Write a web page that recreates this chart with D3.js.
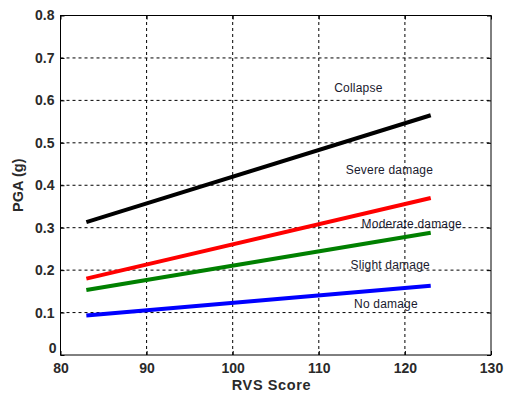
<!DOCTYPE html>
<html>
<head>
<meta charset="utf-8">
<script src="https://cdn.jsdelivr.net/npm/d3@7"></script>
<style>
  body { margin: 0; background: #fff; }
  text { font-family: Arial, "Liberation Sans", sans-serif; }
</style>
</head>
<body>
<div id="chart"></div>
<script>
// data
var rvs = [83, 123];
var collapse = [0.313, 0.565];
var moderate = [0.180, 0.370];
var slight = [0.153, 0.288];
var noDamage = [0.093, 0.163];
var seriesColors = ["#000000", "#ff0000", "#008000", "#0000ff"];

var stateNames = ["Collapse", "Severe damage", "Moderate damage", "Slight damage", "No damage"];
var stateX = [114.6, 118.2, 120.8, 118.3, 117.8];
var stateY = [0.627, 0.435, 0.307, 0.211, 0.119];

var xTicks = [80, 90, 100, 110, 120, 130];
var yTicks = [0, 0.1, 0.2, 0.3, 0.4, 0.5, 0.6, 0.7, 0.8];

var W = 507, H = 395;
var margin = {left: 60.5, right: 16, top: 15.5, bottom: 40};

var svg = d3.select("#chart").append("svg")
    .attr("width", W)
    .attr("height", H);

var x = d3.scaleLinear().domain([80, 130]).range([margin.left, W - margin.right]);
var y = d3.scaleLinear().domain([0, 0.8]).range([H - margin.bottom, margin.top]);

// grid
svg.append("g").selectAll("line").data(xTicks.slice(1, -1)).join("line")
    .attr("x1", d => x(d)).attr("x2", d => x(d))
    .attr("y1", y(0)).attr("y2", y(0.8))
    .attr("stroke", "#000").attr("stroke-width", 1)
    .attr("stroke-dasharray", "3,3");
svg.append("g").selectAll("line").data(yTicks.slice(1, -1)).join("line")
    .attr("x1", x(80)).attr("x2", x(130))
    .attr("y1", d => y(d)).attr("y2", d => y(d))
    .attr("stroke", "#000").attr("stroke-width", 1)
    .attr("stroke-dasharray", "3,3");

// box
svg.append("rect")
    .attr("x", x(80)).attr("y", y(0.8))
    .attr("width", x(130) - x(80)).attr("height", y(0) - y(0.8))
    .attr("fill", "none").attr("stroke", "#000").attr("stroke-width", 1);

// axes, ticks pointing inward like matlab
var xAxis = svg.append("g")
    .attr("transform", "translate(0," + y(0) + ")")
    .call(d3.axisBottom(x).tickValues(xTicks).tickSize(-4).tickPadding(8).tickFormat(d3.format("d")));
var xTop = svg.append("g")
    .attr("transform", "translate(0," + y(0.8) + ")")
    .call(d3.axisTop(x).tickValues(xTicks).tickSize(-4).tickFormat(""));
var yAxis = svg.append("g")
    .attr("transform", "translate(" + x(80) + ",0)")
    .call(d3.axisLeft(y).tickValues(yTicks).tickSize(-4).tickPadding(6).tickFormat(d => d === 0 ? "0" : d3.format(".1f")(d)));
var yRight = svg.append("g")
    .attr("transform", "translate(" + x(130) + ",0)")
    .call(d3.axisRight(y).tickValues(yTicks).tickSize(-4).tickFormat(""));

[xAxis, xTop, yAxis, yRight].forEach(function(g) {
    g.select(".domain").remove();
    g.selectAll("line").attr("stroke", "#000");
});
[xAxis, yAxis].forEach(function(g) {
    g.selectAll("text")
        .attr("font-size", 14)
        .attr("font-weight", "bold")
        .attr("fill", "#2a2a2a");
});
// the y "0" sits low, just over the x "80"
yAxis.selectAll(".tick text").filter(d => d === 0).attr("dy", "-0.15em").attr("x", -4);

// axis titles
svg.append("text")
    .attr("x", x(104.5)).attr("y", 390)
    .attr("text-anchor", "middle")
    .attr("font-size", 14.5).attr("font-weight", "bold").attr("fill", "#2a2a2a")
    .attr("letter-spacing", 0.6)
    .text("RVS Score");
svg.append("text")
    .attr("transform", "translate(23," + y(0.4) + ") rotate(-90)")
    .attr("text-anchor", "middle")
    .attr("font-size", 14.5).attr("font-weight", "bold").attr("fill", "#2a2a2a")
    .text("PGA (g)");

// fragility lines
var series = [collapse, moderate, slight, noDamage];
var line = d3.line().x((d, i) => x(rvs[i])).y(d => y(d));
svg.append("g").selectAll("path").data(series).join("path")
    .attr("d", d => line(d))
    .attr("fill", "none")
    .attr("stroke", (d, i) => seriesColors[i])
    .attr("stroke-width", 4);

// damage state labels
svg.append("g").selectAll("text").data(stateNames).join("text")
    .attr("x", (d, i) => x(stateX[i]))
    .attr("y", (d, i) => y(stateY[i]))
    .attr("text-anchor", "middle")
    .attr("dominant-baseline", "middle")
    .attr("font-size", 12)
    .attr("letter-spacing", 0.2)
    .attr("fill", "#1a1a2e")
    .text(d => d);
</script>
</body>
</html>
